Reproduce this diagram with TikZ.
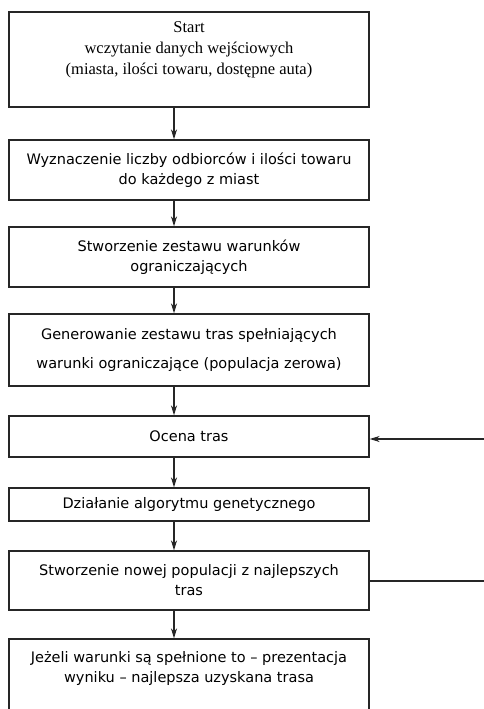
\documentclass[tikz,border=0pt]{standalone}
\usepackage{fontspec}
\setmainfont{Liberation Serif}
\newfontfamily\boxfont{DejaVu Sans}
\usetikzlibrary{arrows.meta}
\begin{document}
\begin{tikzpicture}[x=1pt,y=1pt,
  box/.style={draw=black!85,line width=1.3pt,minimum width=360pt,inner sep=0pt,align=center,font=\boxfont\fontsize{14.5}{20}\selectfont},
  txt/.style={inner sep=0pt,align=center},
  arr/.style={draw=black!85,line width=1.3pt,-{Stealth[length=10pt,width=6pt]}}]
\useasboundingbox (0,0) rectangle (484,-709);
\clip (0,0) rectangle (484,-709);
\fill[white] (0,0) rectangle (484,-709);
% boxes
\node[box,minimum height=95pt] (b1) at (189,-59.5) {};
\node[txt,font=\fontsize{16.5}{21}\selectfont] (t1) at (189,-50) {Start\\wczytanie danych wejściowych\\(miasta, ilości towaru, dostępne auta)};
\node[box,minimum height=60pt] (b2) at (189,-170) {Wyznaczenie liczby odbiorców i ilości towaru\\do każdego z miast};
\node[box,minimum height=60pt] (b3) at (189,-257) {Stworzenie zestawu warunków\\ograniczających};
\node[box,minimum height=72pt,font=\boxfont\fontsize{14.5}{29}\selectfont] (b4) at (189,-350) {Generowanie zestawu tras spełniających\\warunki ograniczające (populacja zerowa)};
\node[box,minimum height=41pt] (b5) at (189,-436.5) {Ocena tras};
\node[box,minimum height=33pt] (b6) at (189,-504.5) {Działanie algorytmu genetycznego};
\node[box,minimum height=59pt] (b7) at (189,-580.5) {Stworzenie nowej populacji z najlepszych\\tras};
\node[box,minimum height=120pt] (b8) at (189,-699) {};
\node[txt,font=\boxfont\fontsize{14.5}{20}\selectfont] (t8) at (189,-668.5) {Jeżeli warunki są spełnione to – prezentacja\\wyniku – najlepsza uzyskana trasa};
% arrows
\draw[arr] ([xshift=-15pt]b1.south) -- ([xshift=-15pt]b2.north);
\draw[arr] ([xshift=-15pt]b2.south) -- ([xshift=-15pt]b3.north);
\draw[arr] ([xshift=-15pt]b3.south) -- ([xshift=-15pt]b4.north);
\draw[arr] ([xshift=-15pt]b4.south) -- ([xshift=-15pt]b5.north);
\draw[arr] ([xshift=-15pt]b5.south) -- ([xshift=-15pt]b6.north);
\draw[arr] ([xshift=-15pt]b6.south) -- ([xshift=-15pt]b7.north);
\draw[arr] ([xshift=-15pt]b7.south) -- ([xshift=-15pt]b8.north);
% feedback lines
\coordinate (fin) at (486,-439);
\coordinate (fout) at (486,-581);
\draw[arr] (fin) -- ([yshift=-2.5pt]b5.east);
\draw[draw=black!85,line width=1.3pt] ([yshift=-0.5pt]b7.east) -- (fout);
\end{tikzpicture}
\end{document}
